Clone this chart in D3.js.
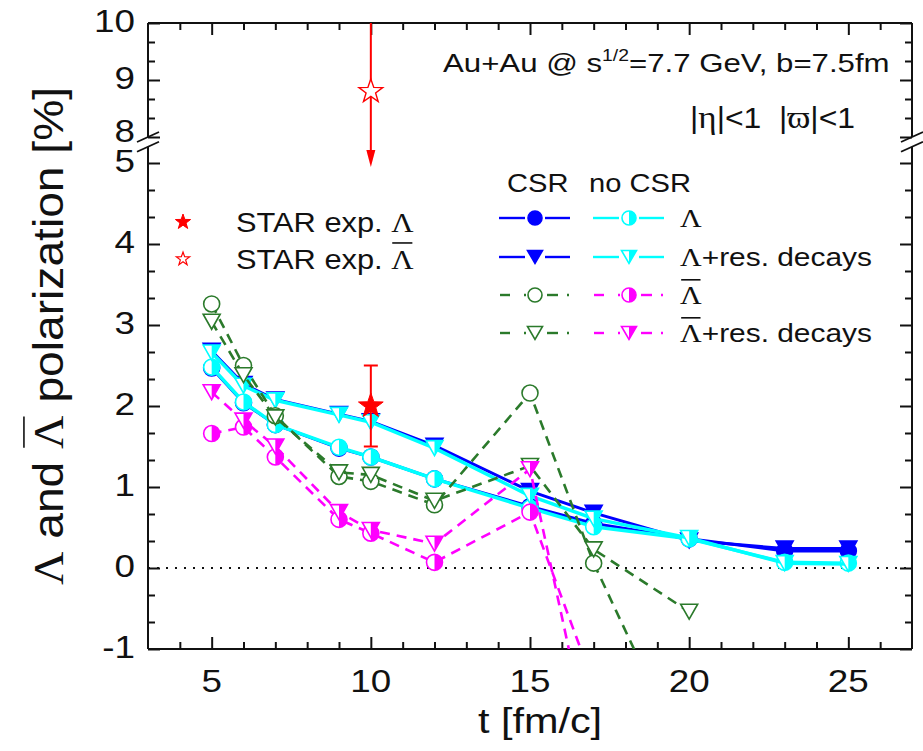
<!DOCTYPE html>
<html>
<head>
<meta charset="utf-8">
<script src="https://cdn.jsdelivr.net/npm/d3@7"></script>
<style>
  body { margin: 0; background: #fff; }
  svg { display: block; }
  text { white-space: pre; }
</style>
</head>
<body>
<svg id="chart" width="923" height="751"></svg>
<script>
// ---- data: Lambda / anti-Lambda polarization [%] vs time t [fm/c] ----
const times = [5, 6, 7, 9, 10, 12, 15, 17, 20, 23, 25];
const csrLambda      = [2.47, 2.04, 1.77, 1.48, 1.37, 1.10, 0.76, 0.55, 0.36, 0.21, 0.21];
const csrLambdaRes   = [2.68, 2.27, 2.08, 1.90, 1.81, 1.51, 0.95, 0.68, 0.34, 0.24, 0.24];
const noCsrLambda    = [2.48, 2.05, 1.77, 1.49, 1.37, 1.10, 0.74, 0.51, 0.36, 0.07, 0.06];
const noCsrLambdaRes = [2.66, 2.25, 2.07, 1.89, 1.80, 1.48, 0.89, 0.61, 0.37, 0.06, 0.05];

const timesAntiCsr = [5, 6, 7, 9, 10, 12, 15, 17, 20];
const csrAnti      = [3.26, 2.50, 1.88, 1.13, 1.07, 0.78, 2.16, 0.06, -2.45];
const csrAntiRes   = [3.04, 2.38, 1.86, 1.18, 1.15, 0.83, 1.26, 0.23, -0.54];

const timesAntiNoCsr = [5, 6, 7, 9, 10, 12, 15, 17];
const noCsrAnti      = [1.66, 1.74, 1.37, 0.60, 0.43, 0.07, 0.69, -1.43];
const noCsrAntiRes   = [2.17, 1.82, 1.50, 0.69, 0.47, 0.30, 1.22, -2.42];

// STAR measurements at t = 10 fm/c
const starTime = 10;
const starLambda = 2.0, starLambdaErr = 0.5;
const starAnti = 8.8, starAntiTop = 10, starAntiArrow = 4.95;

// axis ticks
const xTicks = [5, 10, 15, 20, 25];
const yTicksLow = [-1, 0, 1, 2, 3, 4, 5];
const yTicksUp = [8, 9, 10];

// ---- layout ----
const INK = "#111";
const SANS = "'Liberation Sans', Arial, sans-serif";
const SERIF = "'Liberation Serif', 'DejaVu Serif', 'Times New Roman', serif";
const BLUE = "#0000ff", CYAN = "#00ffff", GREEN = "#2b7a2b", MAGENTA = "#ff00ff", RED = "#ff0000";
const L = 148, R = 912, T = 23, B = 649;

const svg = d3.select("#chart");

const x = d3.scaleLinear().domain([3, 27]).range([L, R]);
const yLow = d3.scaleLinear().domain([-1, 5]).range([B, 163]);
const yUp = d3.scaleLinear().domain([8, 10]).range([137, T]);
const lowTop = 5.2;          // top of lower axis segment
const upBottom = 8.0;        // bottom of upper axis segment

// ---- text helper (parts can be serif / superscript / overlined) ----
function addText(parent, transform, anchor, size, parts) {
  const g = parent.append("g").attr("transform", transform);
  const t = g.append("text")
    .attr("text-anchor", anchor)
    .attr("font-size", size)
    .attr("font-family", SANS)
    .attr("fill", INK);
  let shift = 0;
  parts.forEach(p => {
    const s = t.append("tspan").text(p.t);
    if (p.serif) s.attr("font-family", SERIF);
    if (p.scale) s.attr("font-size", size * p.scale);
    if (p.sup) {
      s.attr("font-size", size * 0.62).attr("dy", -size * 0.42);
      shift = size * 0.42;
    } else if (shift) {
      s.attr("dy", shift);
      shift = 0;
    }
    p.node = s.node();
  });
  parts.forEach(p => {
    if (p.bar) {
      const e = p.node.getExtentOfChar(0);
      g.append("line")
        .attr("x1", e.x + 1).attr("x2", e.x + e.width - 1)
        .attr("y1", -size * 0.93).attr("y2", -size * 0.93)
        .attr("stroke", INK).attr("stroke-width", 1.6);
    }
  });
  return g;
}
const hpos = (px, py, sx) => `translate(${px},${py}) scale(${sx},1)`;

// ---- axes (inward ticks on all four sides) ----
const minorX = d3.range(4, 27).filter(v => v % 5 !== 0);
const minorLow = d3.range(-3, 16).map(k => k / 3).filter(v => Math.abs(v - Math.round(v)) > 1e-6 && v < lowTop);
const minorUp = [25, 26, 28, 29].map(k => k / 3);

function ticks(axisFn, scale, values, size, transform) {
  svg.append("g")
    .attr("transform", transform)
    .call(axisFn(scale).tickValues(values).tickSize(size).tickFormat(""))
    .call(g => g.select(".domain").remove())
    .call(g => g.selectAll("line").attr("stroke", INK).attr("stroke-width", 2));
}
ticks(d3.axisBottom, x, xTicks, -12, `translate(0,${B})`);
ticks(d3.axisBottom, x, minorX, -7, `translate(0,${B})`);
ticks(d3.axisTop, x, xTicks, -12, `translate(0,${T})`);
ticks(d3.axisTop, x, minorX, -7, `translate(0,${T})`);
[[d3.axisLeft, L], [d3.axisRight, R]].forEach(([fn, px]) => {
  ticks(fn, yLow, yTicksLow, -12, `translate(${px},0)`);
  ticks(fn, yLow, minorLow, -7, `translate(${px},0)`);
  ticks(fn, yUp, yTicksUp, -12, `translate(${px},0)`);
  ticks(fn, yUp, minorUp, -7, `translate(${px},0)`);
});

// frame
const frame = svg.append("g").attr("stroke", INK).attr("stroke-width", 2).attr("fill", "none");
frame.append("line").attr("x1", L).attr("x2", R).attr("y1", T).attr("y2", T);
frame.append("line").attr("x1", L).attr("x2", R).attr("y1", B).attr("y2", B);
[L, R].forEach(px => {
  frame.append("line").attr("x1", px).attr("x2", px).attr("y1", T).attr("y2", yUp(upBottom));
  frame.append("line").attr("x1", px).attr("x2", px).attr("y1", yLow(lowTop)).attr("y2", B);
  // axis break marks
  [yUp(upBottom), yLow(lowTop)].forEach(py => {
    frame.append("line")
      .attr("x1", px - 11).attr("y1", py + 5)
      .attr("x2", px + 11).attr("y2", py - 5)
      .attr("stroke-width", 1.8);
  });
});

// tick labels (the label sitting on the break is lifted slightly)
yTicksLow.forEach(v => addText(svg, hpos(135, yLow(v) + 9, 1.15), "end", 32, [{ t: String(v) }]));
yTicksUp.forEach(v => addText(svg, hpos(135, yUp(v) + (v === upBottom ? 5 : 9), 1.15), "end", 32, [{ t: String(v) }]));
xTicks.forEach(v => addText(svg, hpos(x(v), 692, 1.15), "middle", 32, [{ t: String(v) }]));

// axis titles
addText(svg, hpos(540, 733, 1.15), "middle", 36, [{ t: "t [fm/c]" }]);
addText(svg, `translate(63,336) rotate(-90) scale(1.1,1)`, "middle", 42, [
  { t: "Λ", serif: true }, { t: " and " }, { t: "Λ", serif: true, bar: true }, { t: " polarization [%]" }
]);

// ---- zero line ----
svg.append("line")
  .attr("x1", L).attr("x2", R).attr("y1", yLow(0)).attr("y2", yLow(0))
  .attr("stroke", INK).attr("stroke-width", 2).attr("stroke-dasharray", "2,7");

// ---- series ----
svg.append("clipPath").attr("id", "plotClip")
  .append("rect").attr("x", L).attr("y", yLow(lowTop)).attr("width", R - L).attr("height", B - yLow(lowTop));
const plot = svg.append("g").attr("clip-path", "url(#plotClip)");

const line = d3.line().x(d => x(d[0])).y(d => yLow(d[1]));

function circleMarker(g, cx, cy, color, mode, r) {
  g.append("circle").attr("cx", cx).attr("cy", cy).attr("r", r)
    .attr("fill", mode === "full" ? color : "#fff").attr("stroke", color).attr("stroke-width", 1.6);
  if (mode === "half") {
    g.append("path")
      .attr("d", `M${cx},${cy - r}A${r},${r} 0 0 1 ${cx},${cy + r}Z`)
      .attr("fill", color);
  }
}
function triMarker(g, cx, cy, color, mode, a, h) {
  g.append("path")
    .attr("d", `M${cx - a},${cy - h / 2}L${cx + a},${cy - h / 2}L${cx},${cy + h / 2}Z`)
    .attr("fill", mode === "full" ? color : "#fff").attr("stroke", color).attr("stroke-width", 1.6)
    .attr("stroke-linejoin", "miter");
  if (mode === "half") {
    g.append("path")
      .attr("d", `M${cx},${cy - h / 2}L${cx + a},${cy - h / 2}L${cx},${cy + h / 2}Z`)
      .attr("fill", color);
  }
}

const series = [
  { t: times, v: csrLambda,      color: BLUE,    mode: "full", shape: "circle", dash: null, w: 3 },
  { t: times, v: csrLambdaRes,   color: BLUE,    mode: "full", shape: "tri",    dash: null, w: 3 },
  { t: times, v: noCsrLambda,    color: CYAN,    mode: "half", shape: "circle", dash: null, w: 3.5 },
  { t: times, v: noCsrLambdaRes, color: CYAN,    mode: "half", shape: "tri",    dash: null, w: 3.5 },
  { t: timesAntiCsr, v: csrAnti,    color: GREEN, mode: "open", shape: "circle", dash: "10,7", w: 2.6 },
  { t: timesAntiCsr, v: csrAntiRes, color: GREEN, mode: "open", shape: "tri",    dash: "10,7", w: 2.6 },
  { t: timesAntiNoCsr, v: noCsrAnti,    color: MAGENTA, mode: "half", shape: "circle", dash: "10,7", w: 2.6 },
  { t: timesAntiNoCsr, v: noCsrAntiRes, color: MAGENTA, mode: "half", shape: "tri",    dash: "10,7", w: 2.6 }
];

series.forEach(s => {
  const pts = s.t.map((tt, i) => [tt, s.v[i]]);
  const g = plot.append("g");
  g.append("path").attr("d", line(pts))
    .attr("fill", "none").attr("stroke", s.color).attr("stroke-width", s.w)
    .attr("stroke-dasharray", s.dash).attr("stroke-linejoin", "round");
  pts.forEach(p => {
    if (s.shape === "circle") circleMarker(g, x(p[0]), yLow(p[1]), s.color, s.mode, 8);
    else triMarker(g, x(p[0]), yLow(p[1]), s.color, s.mode, 8.5, 15);
  });
});

// ---- STAR points ----
function starPath(cx, cy, Ro) {
  const pts = d3.range(10).map(i => {
    const a = -Math.PI / 2 + i * Math.PI / 5;
    const rr = i % 2 === 0 ? Ro : Ro * 0.4;
    return [cx + rr * Math.cos(a), cy + rr * Math.sin(a)];
  });
  return "M" + pts.map(p => p.join(",")).join("L") + "Z";
}
const sx = x(starTime);
const red = svg.append("g").attr("stroke", RED).attr("stroke-width", 2);
// Lambda with error bar
red.append("line").attr("x1", sx).attr("x2", sx)
  .attr("y1", yLow(starLambda + starLambdaErr)).attr("y2", yLow(starLambda - starLambdaErr));
[starLambda + starLambdaErr, starLambda - starLambdaErr].forEach(v =>
  red.append("line").attr("x1", sx - 7).attr("x2", sx + 7).attr("y1", yLow(v)).attr("y2", yLow(v)));
red.append("path").attr("d", starPath(sx, yLow(starLambda), 13)).attr("fill", RED).attr("stroke-width", 1);
// anti-Lambda with downward arrow
red.append("line").attr("x1", sx).attr("x2", sx).attr("y1", yUp(starAntiTop)).attr("y2", yLow(starAntiArrow) - 12);
red.append("path")
  .attr("d", `M${sx - 4.5},${yLow(starAntiArrow) - 17}L${sx + 4.5},${yLow(starAntiArrow) - 17}L${sx},${yLow(starAntiArrow)}Z`)
  .attr("fill", RED).attr("stroke", "none");
red.append("path").attr("d", starPath(sx, yUp(starAnti), 12.5)).attr("fill", "#fff").attr("stroke-width", 1.4);

// ---- annotations ----
addText(svg, hpos(443, 72, 1.2), "start", 26, [
  { t: "Au+Au @ s" }, { t: "1/2", sup: true }, { t: "=7.7 GeV, b=7.5fm" }
]);
addText(svg, hpos(690, 128, 1.1), "start", 29, [
  { t: "|" }, { t: "η", serif: true, scale: 1.1 }, { t: "|<1  |" }, { t: "ϖ", serif: true, scale: 1.1 }, { t: "|<1" }
]);

// ---- STAR legend ----
svg.append("path").attr("d", starPath(183, 222, 8)).attr("fill", RED).attr("stroke", RED);
svg.append("path").attr("d", starPath(183, 259, 7)).attr("fill", "#fff").attr("stroke", RED).attr("stroke-width", 1.2);
addText(svg, hpos(236, 232, 1.1), "start", 28, [{ t: "STAR exp. " }, { t: "Λ", serif: true }]);
addText(svg, hpos(236, 269, 1.1), "start", 28, [{ t: "STAR exp. " }, { t: "Λ", serif: true, bar: true }]);

// ---- model legend ----
addText(svg, hpos(507, 192, 1.12), "start", 26, [{ t: "CSR" }]);
addText(svg, hpos(589, 192, 1.12), "start", 26, [{ t: "no CSR" }]);
const legRows = [
  { y: 218, label: [{ t: "Λ", serif: true }] },
  { y: 257, label: [{ t: "Λ", serif: true }, { t: "+res. decays" }] },
  { y: 295, label: [{ t: "Λ", serif: true, bar: true }] },
  { y: 333, label: [{ t: "Λ", serif: true, bar: true }, { t: "+res. decays" }] }
];
const leg = svg.append("g");
const cols = [535, 629];
legRows.forEach((row, i) => {
  [0, 1].forEach(c => {
    const s = series[c === 0 ? (i < 2 ? i : i + 2) : (i < 2 ? i + 2 : i + 4)];
    const cx = cols[c];
    const segs = s.dash
      ? [[-35, -25], [-11, -9], [12, 23], [32, 34]]
      : [[-36, -10], [10, 35]];
    segs.forEach(([a, b]) => leg.append("line")
      .attr("x1", cx + a).attr("x2", cx + b).attr("y1", row.y).attr("y2", row.y)
      .attr("stroke", s.color).attr("stroke-width", 2.4));
    if (s.shape === "circle") circleMarker(leg, cx, row.y, s.color, s.mode, 7);
    else triMarker(leg, cx, row.y, s.color, s.mode, 7.5, 13);
  });
  addText(svg, hpos(680, row.y + 9, 1.15), "start", 26, row.label);
});
</script>
</body>
</html>
